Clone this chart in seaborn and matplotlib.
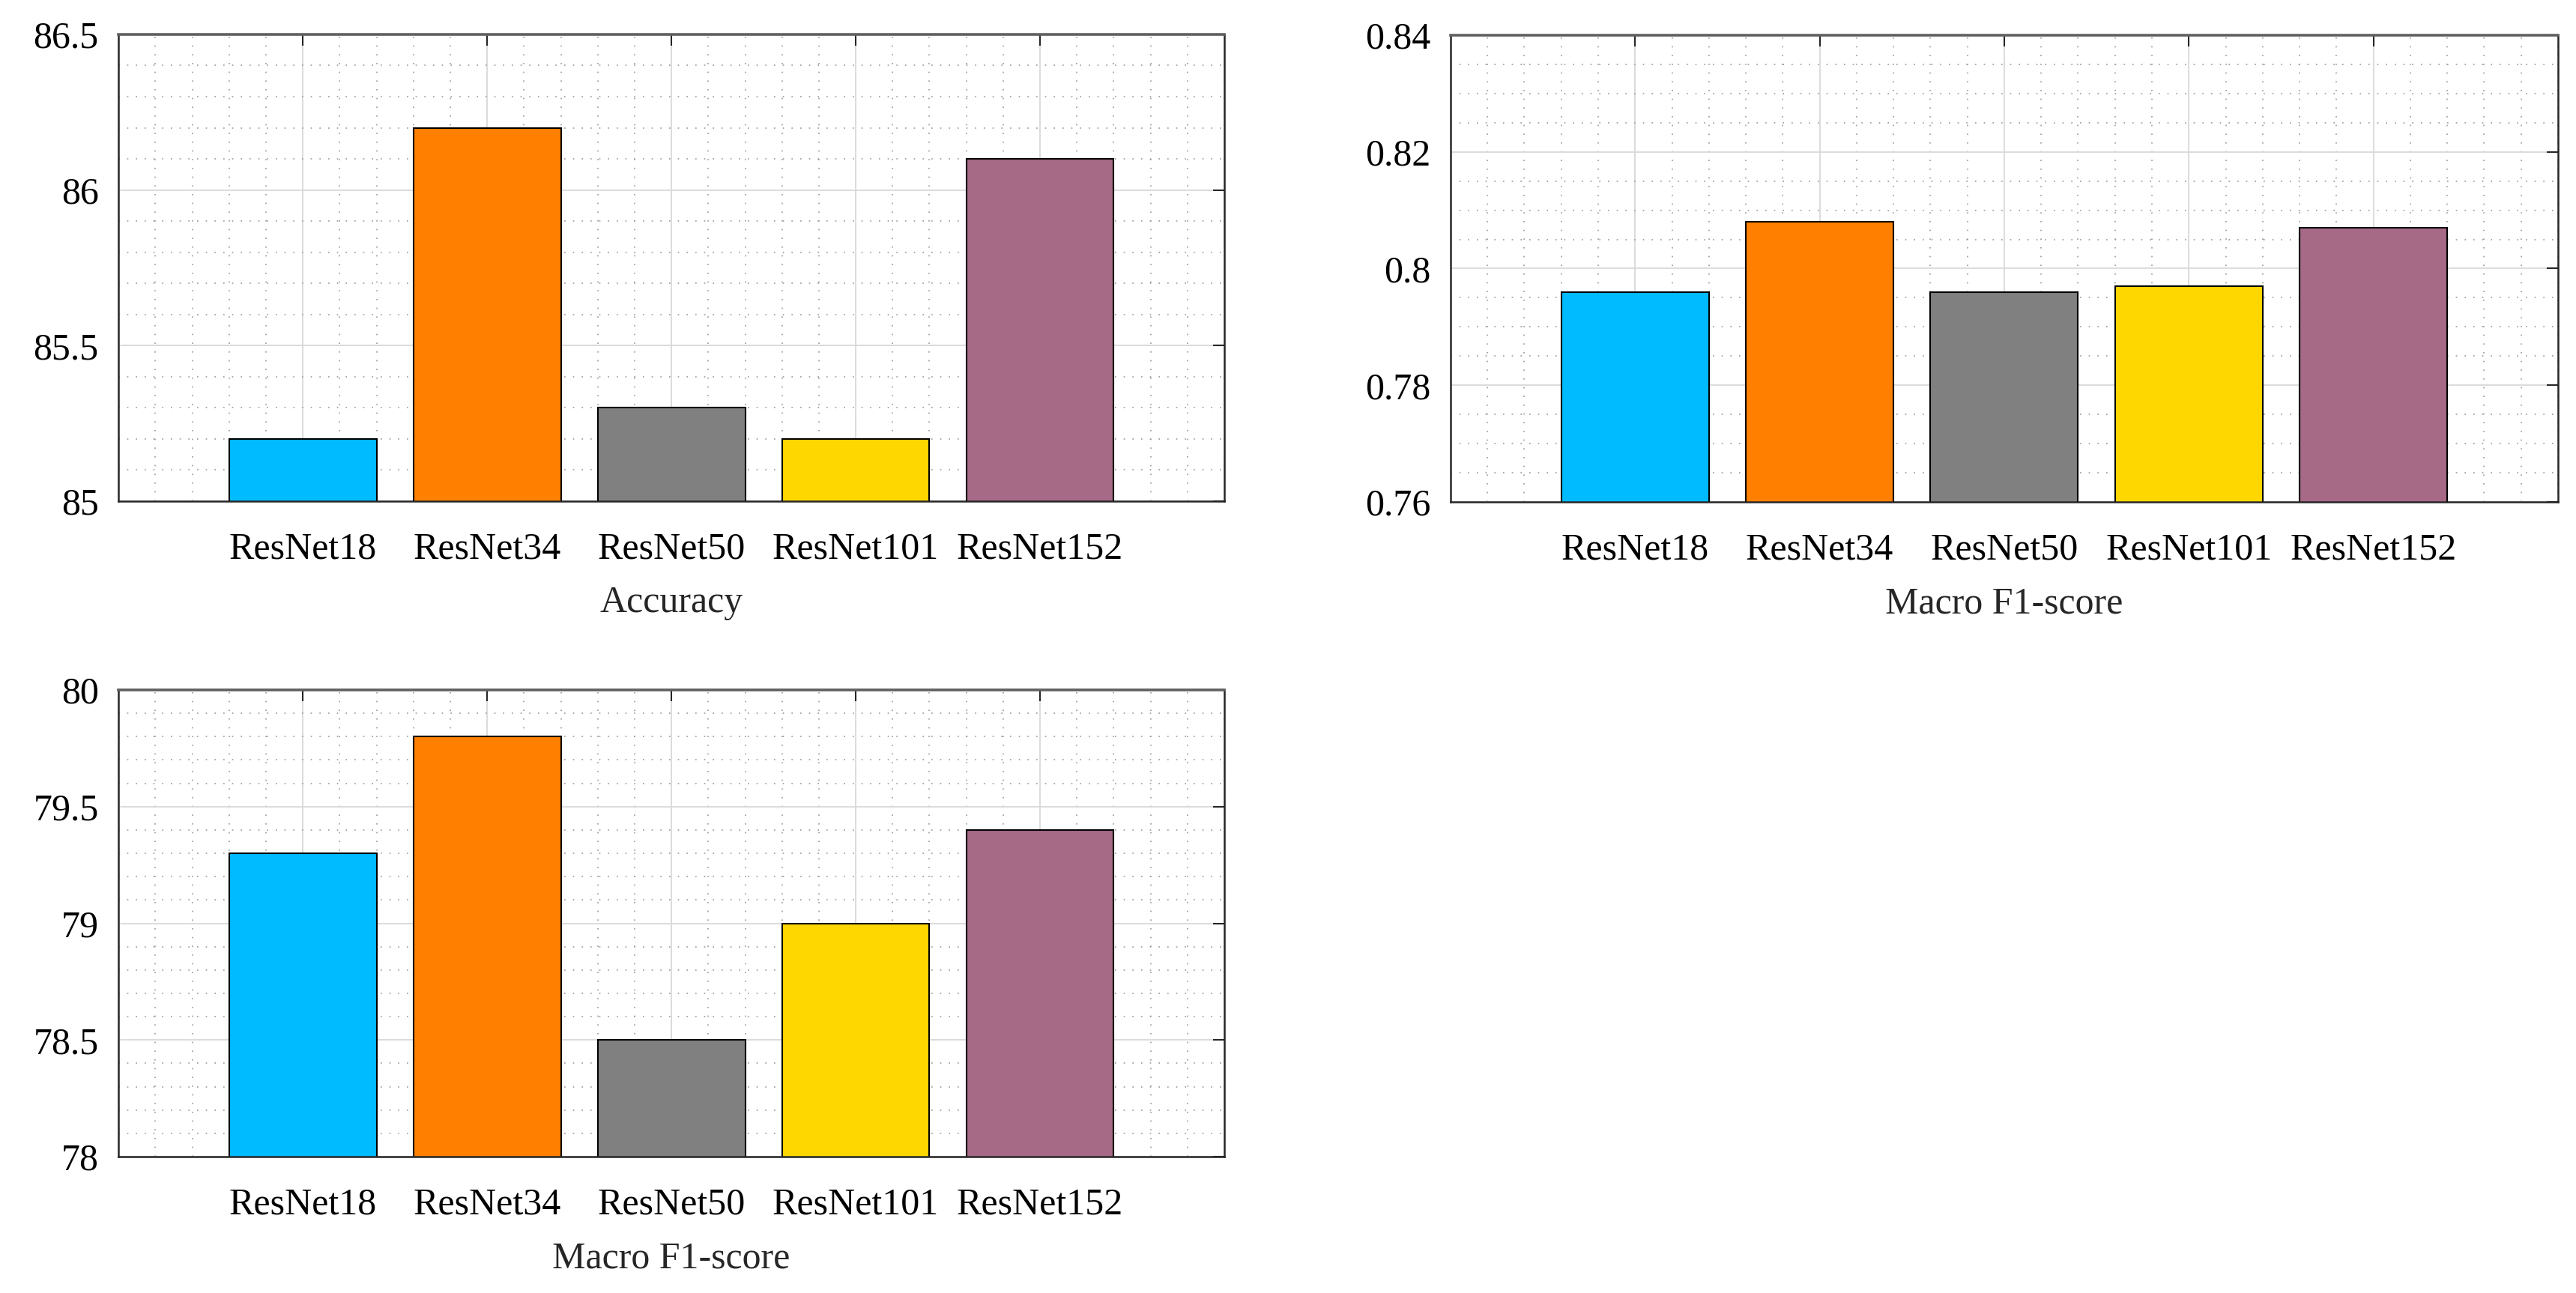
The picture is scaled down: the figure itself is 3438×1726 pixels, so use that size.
import matplotlib
matplotlib.use('Agg')
import numpy as np
import matplotlib.pyplot as plt
import seaborn as sns
from matplotlib.ticker import MultipleLocator, FuncFormatter

# --- data ---
models = ['ResNet18', 'ResNet34', 'ResNet50', 'ResNet101', 'ResNet152']
accuracy = [85.2, 86.2, 85.3, 85.2, 86.1]
f1_frac = [0.796, 0.808, 0.796, 0.797, 0.807]
f1_pct = [79.3, 79.8, 78.5, 79.0, 79.4]
bar_colors = ['#00BBFF', '#FF8000', '#808080', '#FFD700', '#A66A87']

sns.set_theme(style='white')
plt.rcParams['font.family'] = ['Liberation Serif', 'DejaVu Serif']

FS = 36

fig = plt.figure(figsize=(34.38, 17.26), dpi=100)
ax1 = fig.add_axes([0.0460, 0.6124, 0.4293, 0.3610])
ax2 = fig.add_axes([0.5631, 0.6118, 0.4299, 0.3610])
ax3 = fig.add_axes([0.0460, 0.1054, 0.4293, 0.3610])

panels = [
    (ax1, accuracy, 'Accuracy', (85, 86.5), 0.5, 0.1),
    (ax2, f1_frac, 'Macro F1-score', (0.76, 0.84), 0.02, 0.005),
    (ax3, f1_pct, 'Macro F1-score', (78, 80), 0.5, 0.1),
]

for ax, vals, label, ylim, major, minor in panels:
    sns.barplot(x=models, y=vals, hue=models, palette=bar_colors, width=0.8,
                edgecolor='black', linewidth=1.5, saturation=1, legend=False, ax=ax)
    ax.set_xlim(-1, 5)
    ax.set_ylim(*ylim)
    ax.yaxis.set_major_locator(MultipleLocator(major))
    ax.yaxis.set_minor_locator(MultipleLocator(minor))
    ax.xaxis.set_minor_locator(MultipleLocator(0.2))
    ax.yaxis.set_major_formatter(FuncFormatter(lambda v, p: f'{v:g}'))

    # matlab-ish grid: light solid majors, dotted minors
    ax.set_axisbelow(True)
    ax.grid(which='major', color='#d9d9d9', linewidth=1.3, linestyle='-')
    ax.grid(which='minor', color='#9a9a9a', linewidth=1.2, linestyle=(0, (1, 6)))

    ax.tick_params(which='major', direction='in', top=True, right=True,
                   length=11, width=1.5, colors='#262626', labelcolor='black',
                   labelsize=FS)
    ax.tick_params(axis='x', which='major', pad=29.5)
    ax.tick_params(axis='y', which='major', pad=19)
    ax.tick_params(which='minor', length=0)

    for side in ['left', 'bottom', 'right']:
        ax.spines[side].set_color('#262626')
        ax.spines[side].set_linewidth(1.8)
    ax.spines['top'].set_color('#606060')
    ax.spines['top'].set_linewidth(2.6)

    ax.set_xlabel(label, fontsize=FS, labelpad=18)
    ax.set_ylabel('')

fig.savefig('out.png', dpi=100, facecolor='white')
